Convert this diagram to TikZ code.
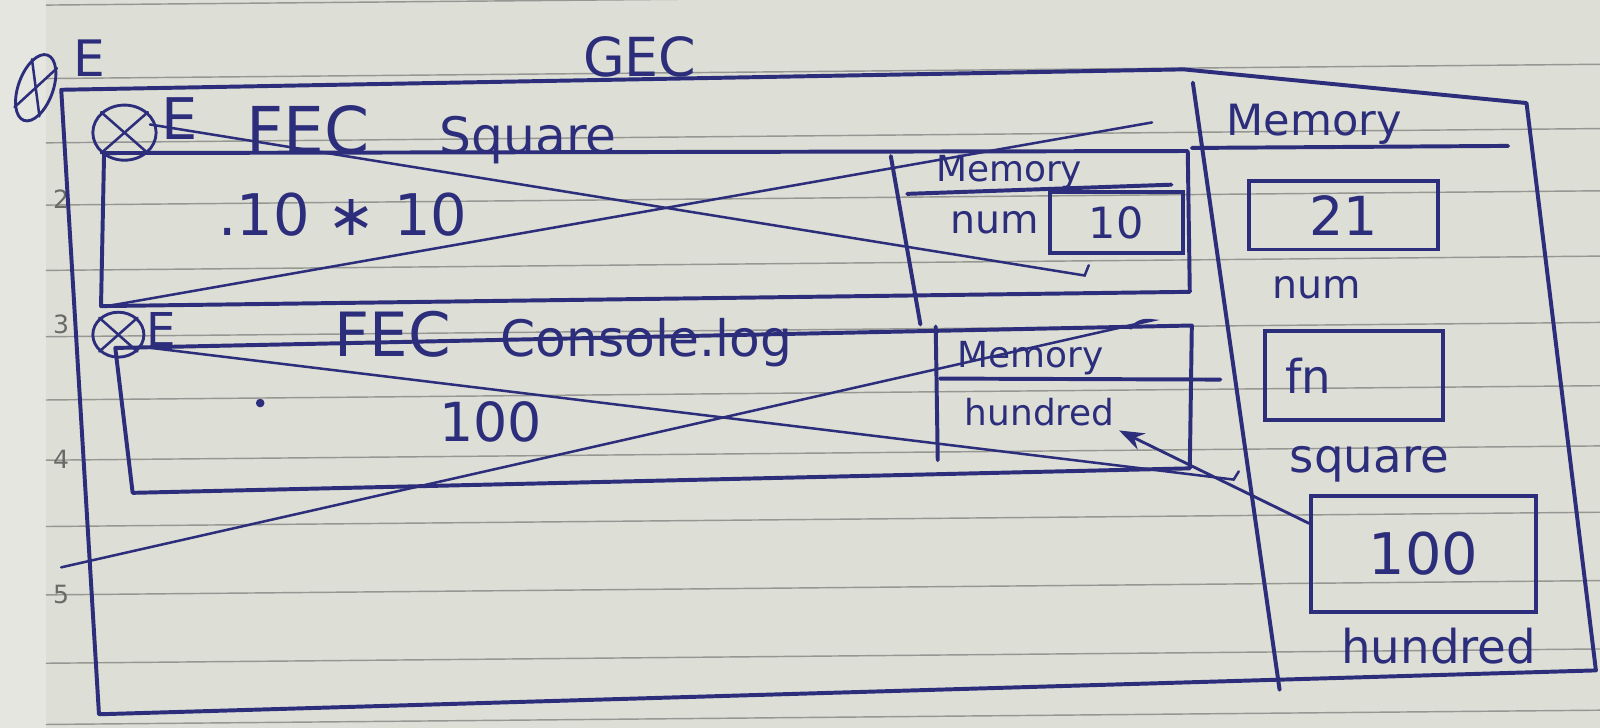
\documentclass[tikz,border=0pt]{standalone}
\usepackage{fontspec}
\setmainfont{DejaVu Sans}
\usepackage{xcolor}
\usepackage{tikz}
\usetikzlibrary{arrows.meta,positioning,shapes.geometric}

\definecolor{ink}{RGB}{44,46,124}
\definecolor{paper}{RGB}{221,222,213}
\definecolor{marginpaper}{RGB}{229,230,224}
\definecolor{ruling}{RGB}{150,150,146}
\newcommand{\penfont}[1]{\fontsize{#1}{#1}\selectfont}

\begin{document}
\begin{tikzpicture}[
        x=0.01cm, y=-0.01cm,
        pen/.style={draw=ink, line width=1.1pt, line cap=round, line join=round},
        strike/.style={draw=ink, line width=0.7pt, line cap=round},
        valbox/.style={rectangle, draw=ink, line width=1.1pt, text=ink, inner sep=0pt},
        tag/.style={text=ink, inner sep=1pt},
        scribble/.style={ellipse, draw=ink, line width=0.8pt, inner sep=0pt},
        ruled/.style={draw=ruling, line width=0.4pt},
        pagenum/.style={text=ruling!70!black, font=\penfont{7}, inner sep=0pt},
        pointer/.style={draw=ink, line width=0.8pt, -{Stealth[length=7pt,width=5pt]}}
    ]
        % Paper
        \fill[paper] (0,0) rectangle (1568,713);
        \fill[marginpaper] (0,0) rectangle (45,713);
        \useasboundingbox (0,0) rectangle (1568,713);
        \foreach \ry in {5,77,140,201,265,330,392,451,516,583,650,710}
            \draw[ruled] (45,\ry) -- (1568,\ry-14);
        \foreach \n/\ny in {2/195,3/318,4/450,5/583}
            \node[pagenum] at (60,\ny) {\n};

        % GEC frame
        \coordinate (gecTL) at (60,88);
        \coordinate (gecTop) at (1160,68);
        \coordinate (gecTR) at (1496,101);
        \coordinate (gecBR) at (1564,657);
        \coordinate (gecBL) at (97,700);
        \draw[pen] (gecTL) -- (gecTop) -- (gecTR) -- (gecBR) -- (gecBL) -- cycle;
        \node[scribble, minimum width=0.34cm, minimum height=0.68cm, rotate=-20] (topMark) at (35,86) {};
        \node[tag, font=\penfont{14}] (topE) at (88,57) {E};
        \node[tag, font=\penfont{15}] (gecTitle) at (627,56) {GEC};

        % Global memory
        \coordinate (gmTop) at (1169,81);
        \coordinate (gmBot) at (1254,676);
        \draw[pen] (gmTop) -- (gmBot);
        \node[tag, font=\penfont{12}] (gmTitle) at (1288,122) {Memory};
        \coordinate (gmRuleL) at (1168,145);
        \coordinate (gmRuleR) at (1478,143);
        \draw[pen] (gmRuleL) -- (gmRuleR);
        \node[valbox, minimum width=1.85cm, minimum height=0.67cm, font=\penfont{15}] (box21) at (1317,211) {21};
        \node[tag, font=\penfont{11}, below=2mm of box21, xshift=-2.7mm] (gmNum) {num};
        \node[valbox, minimum width=1.75cm, minimum height=0.87cm, text width=1.35cm, inner xsep=2mm, align=left, font=\penfont{13}] (boxFn) at (1327,368) {fn};
        \node[tag, font=\penfont{13}, below=2mm of boxFn, xshift=1.5mm] (gmSquare) {square};
        \node[valbox, minimum width=2.2cm, minimum height=1.13cm, font=\penfont{16}] (box100) at (1395,543) {100};
        \node[tag, font=\penfont{13}, below=1mm of box100, xshift=1.5mm] (gmHundred) {hundred};

        % FEC square
        \coordinate (sqTL) at (102,150);
        \coordinate (sqTR) at (1164,148);
        \coordinate (sqBR) at (1166,286);
        \coordinate (sqBL) at (99,300);
        \draw[pen] (sqTL) -- (sqTR) -- (sqBR) -- (sqBL) -- cycle;
        \node[scribble, minimum width=0.62cm, minimum height=0.54cm] (sqMark) at (122,130) {};
        \node[tag, font=\penfont{16}] (sqE) at (176,116) {E};
        \node[tag, font=\penfont{18}] (sqFEC) at (302,127) {FEC};
        \node[tag, font=\penfont{14}, base right=6mm of sqFEC] (sqName) {Square};
        \node[tag, font=\penfont{16}] (sqCode) at (336,210) {.10 ∗ 10};

        % its memory
        \coordinate (sqMemTop) at (873,153);
        \coordinate (sqMemBot) at (902,318);
        \draw[pen] (sqMemTop) -- (sqMemBot);
        \node[tag, font=\penfont{10}] (sqMemTitle) at (989,169) {Memory};
        \coordinate (sqMemRuleL) at (889,190);
        \coordinate (sqMemRuleR) at (1148,181);
        \draw[pen] (sqMemRuleL) -- (sqMemRuleR);
        \node[valbox, minimum width=1.3cm, minimum height=0.6cm, font=\penfont{12}] (box10) at (1094,218) {10};
        \node[tag, font=\penfont{11}, left=0.5mm of box10] (sqNum) {num};

        % FEC console.log
        \coordinate (cnTL) at (113,341);
        \coordinate (cnTR) at (1168,319);
        \coordinate (cnBR) at (1166,459);
        \coordinate (cnBL) at (130,483);
        \draw[pen] (cnTL) -- (cnTR) -- (cnBR) -- (cnBL) -- cycle;
        \node[scribble, minimum width=0.5cm, minimum height=0.44cm] (cnMark) at (116,328) {};
        \node[tag, font=\penfont{13}] (cnE) at (158,323) {E};
        \node[tag, font=\penfont{17}] (cnFEC) at (385,328) {FEC};
        \node[tag, font=\penfont{14}, base right=4mm of cnFEC] (cnName) {Console.log};
        \fill[ink] (255,395) circle[radius=1.2pt];
        \node[tag, font=\penfont{15}] (cnOut) at (481,413) {100};

        % its memory
        \coordinate (cnMemTop) at (917,320);
        \coordinate (cnMemBot) at (919,451);
        \draw[pen] (cnMemTop) -- (cnMemBot);
        \node[tag, font=\penfont{10}] (cnMemTitle) at (1010,351) {Memory};
        \coordinate (cnMemRuleL) at (921,371);
        \coordinate (cnMemRuleR) at (1196,372);
        \draw[pen] (cnMemRuleL) -- (cnMemRuleR);
        \node[tag, font=\penfont{10}] (cnHundred) at (1019,404) {hundred};

        % crossed out
        \foreach \m in {topMark,sqMark,cnMark} {
            \draw[strike] (\m.north west) -- (\m.south east);
            \draw[strike] (\m.north east) -- (\m.south west);
        }
        \draw[strike] (147,122) -- (1063,270) -- ++(4,-10);
        \draw[strike] (105,300) -- (1129,120);
        \draw[strike] (140,340) -- (1209,470) -- ++(5,-8);
        \draw[strike] (60,556) -- (1129,314) to[bend right] (1108,322);

        % pointer
        \draw[pointer] (box100.165) -- (cnHundred.south east);
    \end{tikzpicture}
\end{document}
